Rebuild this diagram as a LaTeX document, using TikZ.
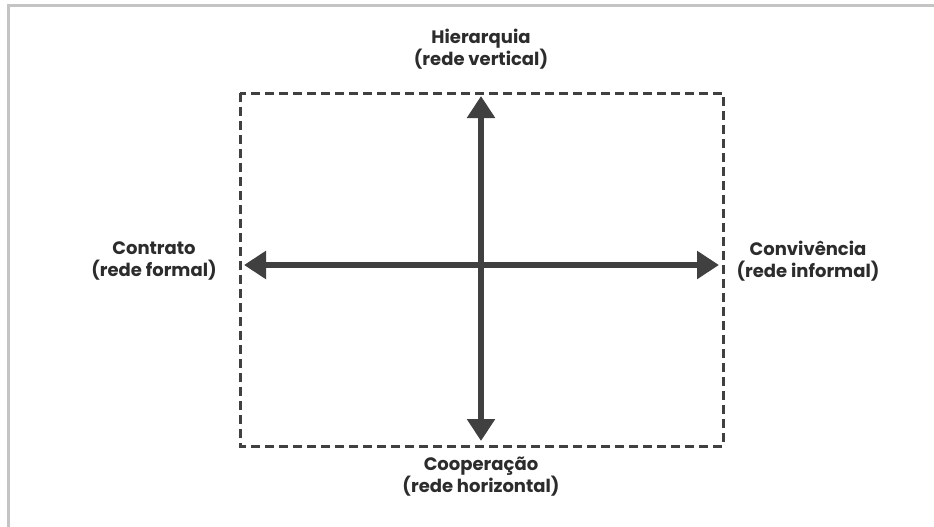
\documentclass[tikz,border=0pt]{standalone}
\usepackage{fontspec}
\setmainfont{Poppins}
\usetikzlibrary{arrows.meta}
\definecolor{axis}{HTML}{404040}
\definecolor{labeltext}{HTML}{2C2C2C}
\definecolor{frame}{HTML}{C4C4C4}
\tikzset{
  axisarrow/.style={draw=axis, line width=6pt, {Triangle[width=27pt,length=22pt]}-{Triangle[width=27pt,length=22pt]}},
  dashbox/.style={draw=axis, line width=3pt, dash pattern=on 9pt off 5pt},
  axislabel/.style={font=\fontsize{18}{22}\selectfont\bfseries, text=labeltext, align=center, inner sep=0pt}
}
\begin{document}
\begin{tikzpicture}[x=1pt,y=-1pt]
  \useasboundingbox[fill=white] (0,0) rectangle (934,527);
  % outer page frame (top and left edges only)
  \draw[frame, line width=3pt] (8.5,527) -- (8.5,6) -- (934,6);
  % dashed field
  \draw[dashbox] (240,93) rectangle (723,446);
  % axis end points
  \coordinate (top) at (481,96);
  \coordinate (bottom) at (481,441);
  \coordinate (left) at (244,265);
  \coordinate (right) at (719,265);
  \draw[axisarrow] (top) -- (bottom);
  \draw[axisarrow] (left) -- (right);
  % pole labels
  \node[axislabel] (hier) at (481,49) {Hierarquia\\(rede vertical)};
  \node[axislabel] (contr) at (154,261) {Contrato\\(rede formal)};
  \node[axislabel] (conv) at (808,261) {Convivência\\(rede informal)};
  \node[axislabel] (coop) at (481,477) {Cooperação\\(rede horizontal)};
\end{tikzpicture}
\end{document}
